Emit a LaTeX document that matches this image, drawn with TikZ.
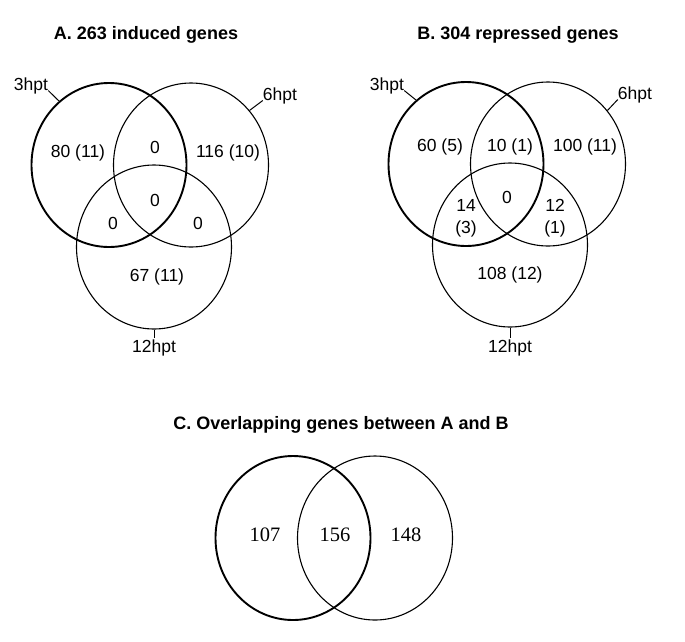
\documentclass[tikz,border=0pt]{standalone}
\usepackage{fontspec}
\setmainfont{Liberation Sans}
\newfontfamily\numfont{Liberation Serif}
\usetikzlibrary{shapes.geometric, positioning}

\begin{document}
\begin{tikzpicture}[x=1pt, y=-1pt,
    set/.style={ellipse, draw, minimum width=155pt, minimum height=164pt, inner sep=0pt, line width=1.1pt},
    mainset/.style={set, line width=1.9pt},
    count/.style={inner sep=0pt, align=center, font=\fontsize{17.5}{22}\selectfont},
    tag/.style={inner sep=0pt, font=\fontsize{17.5}{21}\selectfont},
    heading/.style={font=\fontsize{18}{22}\selectfont\bfseries},
    lead/.style={line width=1pt}
]
    \useasboundingbox (0,0) rectangle (685,641);

    % A. induced
    \node[heading] (ta) at (146, 35) {A. 263 induced genes};
    \node[set] (a6) at (191, 165) {};
    \node[set] (a12) at (154, 247) {};
    \node[mainset] (a3) at (109, 165) {};

    \node[tag] (a3t) at (31, 86) {3hpt};
    \node[tag] (a6t) at (280, 96) {6hpt};
    \node[tag] (a12t) at (154, 348) {12hpt};
    \draw[lead] (a3t.base east) -- (a3.128);
    \draw[lead] (a6t.base west) -- (a6.43);
    \draw[lead, shorten >=2pt] (a12.south) -- (a12t.north);

    \node[count] (a1) at (78, 153) {80 (11)};
    \node[count] (a2) at (155, 147) {0};
    \node[count] (a3n) at (228, 153) {116 (10)};
    \node[count] (a4) at (155, 200) {0};
    \node[count] (a5) at (113, 223) {0};
    \node[count] (a6n) at (198, 223) {0};
    \node[count] (a7) at (157, 277) {67 (11)};

    % B. repressed
    \node[heading] (tb) at (518, 35) {B. 304 repressed genes};
    \node[set] (b6) at (548, 164) {};
    \node[set] (b12) at (510, 245) {};
    \node[mainset] (b3) at (466, 164) {};

    \node[tag] (b3t) at (387, 86) {3hpt};
    \node[tag] (b6t) at (635, 95) {6hpt};
    \node[tag] (b12t) at (510, 348) {12hpt};
    \draw[lead] (b3t.base east) -- (b3.128);
    \draw[lead] (b6t.base west) -- (b6.42);
    \draw[lead, shorten >=2pt] (b12.south) -- (b12t.north);

    \node[count] (b1) at (440, 147) {60 (5)};
    \node[count] (b2) at (510, 147) {10 (1)};
    \node[count] (b3n) at (585, 147) {100 (11)};
    \node[count] (b4) at (507, 197) {0};
    \node[count] (b5) at (466, 218) {14\\(3)};
    \node[count] (b6n) at (555, 218) {12\\(1)};
    \node[count] (b7) at (510, 275) {108 (12)};

    % C. overlap
    \node[heading] (tc) at (341, 425) {C. Overlapping genes between A and B};
    \node[set] (cb) at (375, 538) {};
    \node[mainset] (ca) at (293, 538) {};
    \node[count, font=\fontsize{20.5}{24}\numfont] (c1) at (265, 535) {107};
    \node[count, font=\fontsize{20.5}{24}\numfont] (c2) at (335, 535) {156};
    \node[count, font=\fontsize{20.5}{24}\numfont] (c3) at (406, 535) {148};
\end{tikzpicture}
\end{document}
